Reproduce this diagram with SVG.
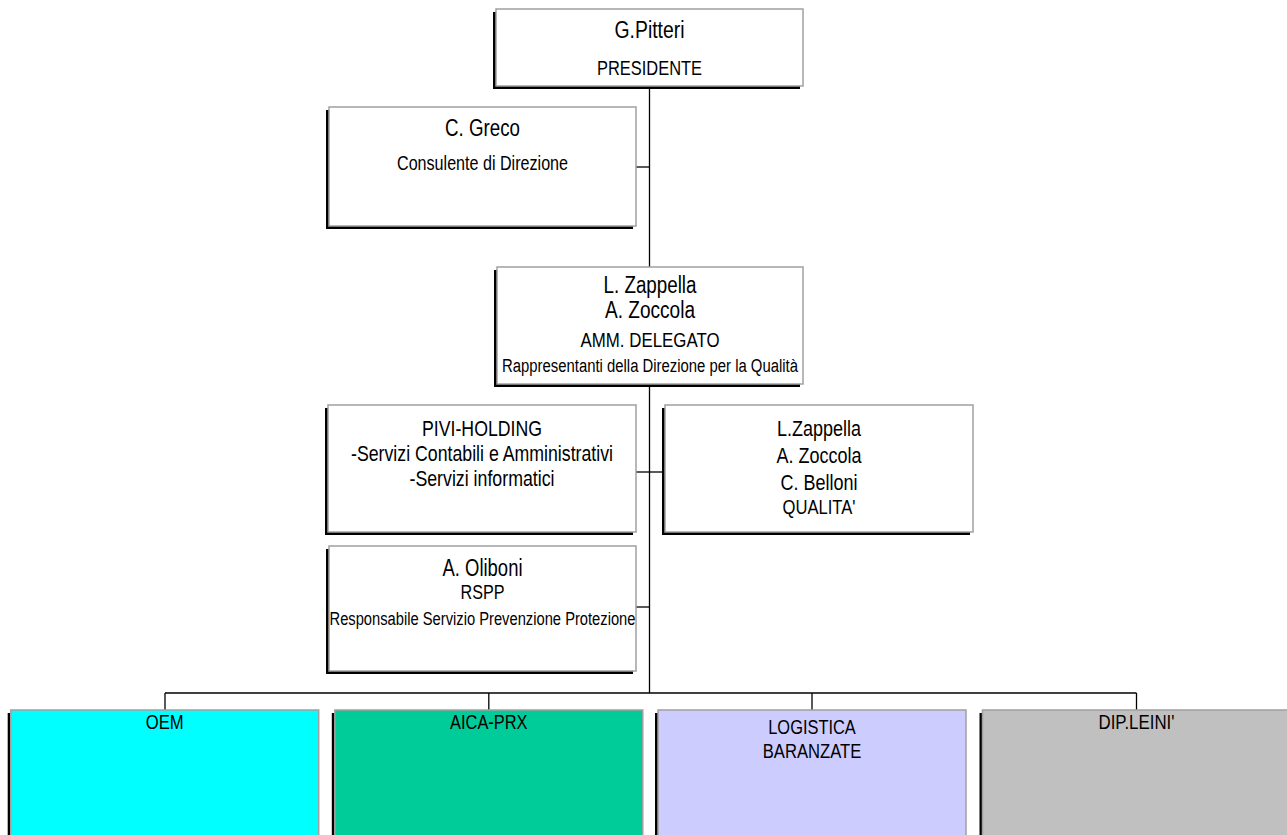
<svg xmlns="http://www.w3.org/2000/svg" width="1287" height="835" viewBox="0 0 1287 835">
<style>
.sh{fill:#000}
.bx{stroke:#a0a0a0;stroke-width:1.5}
.w{fill:#fff}
.c{stroke:#000;stroke-width:1.3;fill:none}
text{font-family:"Liberation Sans Narrow","Liberation Sans",Arial,sans-serif;fill:#000;text-anchor:middle}
.n{font-size:23px}
.m{font-size:22px}
.t{font-size:20px}
.s{font-size:18px}
</style>
<rect width="1287" height="835" fill="#fff"/>
<g id="connectors">
<line class="c" x1="649.5" y1="86" x2="649.5" y2="267"/>
<line class="c" x1="649.5" y1="384" x2="649.5" y2="693"/>
<line class="c" x1="636" y1="167" x2="649.5" y2="167"/>
<line class="c" x1="636" y1="472" x2="665" y2="472"/>
<line class="c" x1="636" y1="607" x2="649.5" y2="607"/>
<line class="c" x1="165" y1="693" x2="1136.5" y2="693"/>
<line class="c" x1="165" y1="693" x2="165" y2="710"/>
<line class="c" x1="488.8" y1="693" x2="488.8" y2="710"/>
<line class="c" x1="812" y1="693" x2="812" y2="710"/>
<line class="c" x1="1136.5" y1="693" x2="1136.5" y2="710"/>
</g>
<g id="president">
<rect class="sh" x="493" y="12" width="307" height="77"/>
<rect class="bx w" x="496" y="9" width="307" height="77"/>
<text class="n" x="649.5" y="38" textLength="70" lengthAdjust="spacingAndGlyphs">G.Pitteri</text>
<text class="t" x="649.5" y="75" textLength="105" lengthAdjust="spacingAndGlyphs">PRESIDENTE</text>
</g>
<g id="greco">
<rect class="sh" x="326" y="110" width="307" height="119"/>
<rect class="bx w" x="329" y="107" width="307" height="119"/>
<text class="n" x="482.5" y="136" textLength="75" lengthAdjust="spacingAndGlyphs">C. Greco</text>
<text class="t" x="482.5" y="170" textLength="171" lengthAdjust="spacingAndGlyphs">Consulente di Direzione</text>
</g>
<g id="amm-delegato">
<rect class="sh" x="494" y="270" width="306" height="117"/>
<rect class="bx w" x="497" y="267" width="306" height="117"/>
<text class="n" x="650" y="293" textLength="93" lengthAdjust="spacingAndGlyphs">L. Zappella</text>
<text class="n" x="650" y="318" textLength="90" lengthAdjust="spacingAndGlyphs">A. Zoccola</text>
<text class="t" x="650" y="347" textLength="139" lengthAdjust="spacingAndGlyphs">AMM. DELEGATO</text>
<text class="s" x="650" y="372" textLength="296" lengthAdjust="spacingAndGlyphs">Rappresentanti della Direzione per la Qualità</text>
</g>
<g id="pivi-holding">
<rect class="sh" x="325" y="408" width="308" height="127"/>
<rect class="bx w" x="328" y="405" width="308" height="127"/>
<text class="m" x="482" y="435.5" textLength="120" lengthAdjust="spacingAndGlyphs">PIVI-HOLDING</text>
<text class="m" x="482" y="461" textLength="262" lengthAdjust="spacingAndGlyphs">-Servizi Contabili e Amministrativi</text>
<text class="m" x="482" y="486" textLength="145" lengthAdjust="spacingAndGlyphs">-Servizi informatici</text>
</g>
<g id="qualita">
<rect class="sh" x="662" y="408" width="308" height="127"/>
<rect class="bx w" x="665" y="405" width="308" height="127"/>
<text class="m" x="819" y="435.5" textLength="84" lengthAdjust="spacingAndGlyphs">L.Zappella</text>
<text class="m" x="819" y="463" textLength="85" lengthAdjust="spacingAndGlyphs">A. Zoccola</text>
<text class="m" x="819" y="490" textLength="77" lengthAdjust="spacingAndGlyphs">C. Belloni</text>
<text class="t" x="819" y="514" textLength="73" lengthAdjust="spacingAndGlyphs">QUALITA'</text>
</g>
<g id="rspp">
<rect class="sh" x="326" y="549" width="307" height="125"/>
<rect class="bx w" x="329" y="546" width="307" height="125"/>
<text class="n" x="482.5" y="576" textLength="80" lengthAdjust="spacingAndGlyphs">A. Oliboni</text>
<text class="t" x="482.5" y="599" textLength="44" lengthAdjust="spacingAndGlyphs">RSPP</text>
<text class="s" x="482.5" y="625" textLength="306" lengthAdjust="spacingAndGlyphs">Responsabile Servizio Prevenzione Protezione</text>
</g>
<g id="oem">
<rect class="sh" x="7.7" y="713" width="308" height="150"/>
<rect class="bx" fill="#00ffff" x="10.7" y="710" width="308" height="150"/>
<text class="t" x="164.7" y="729" textLength="38" lengthAdjust="spacingAndGlyphs">OEM</text>
</g>
<g id="aica-prx">
<rect class="sh" x="331.8" y="713" width="308" height="150"/>
<rect class="bx" fill="#00cc99" x="334.8" y="710" width="308" height="150"/>
<text class="t" x="488.8" y="729" textLength="77.5" lengthAdjust="spacingAndGlyphs">AICA-PRX</text>
</g>
<g id="logistica">
<rect class="sh" x="655" y="713" width="308" height="150"/>
<rect class="bx" fill="#ccccff" x="658" y="710" width="308" height="150"/>
<text class="t" x="812" y="734" textLength="87.5" lengthAdjust="spacingAndGlyphs">LOGISTICA</text>
<text class="t" x="812" y="758" textLength="98.5" lengthAdjust="spacingAndGlyphs">BARANZATE</text>
</g>
<g id="dip-leini">
<rect class="sh" x="979.5" y="713" width="308" height="150"/>
<rect class="bx" fill="#c0c0c0" x="982.5" y="710" width="308" height="150"/>
<text class="t" x="1136.5" y="729" textLength="76" lengthAdjust="spacingAndGlyphs">DIP.LEINI'</text>
</g>
</svg>
